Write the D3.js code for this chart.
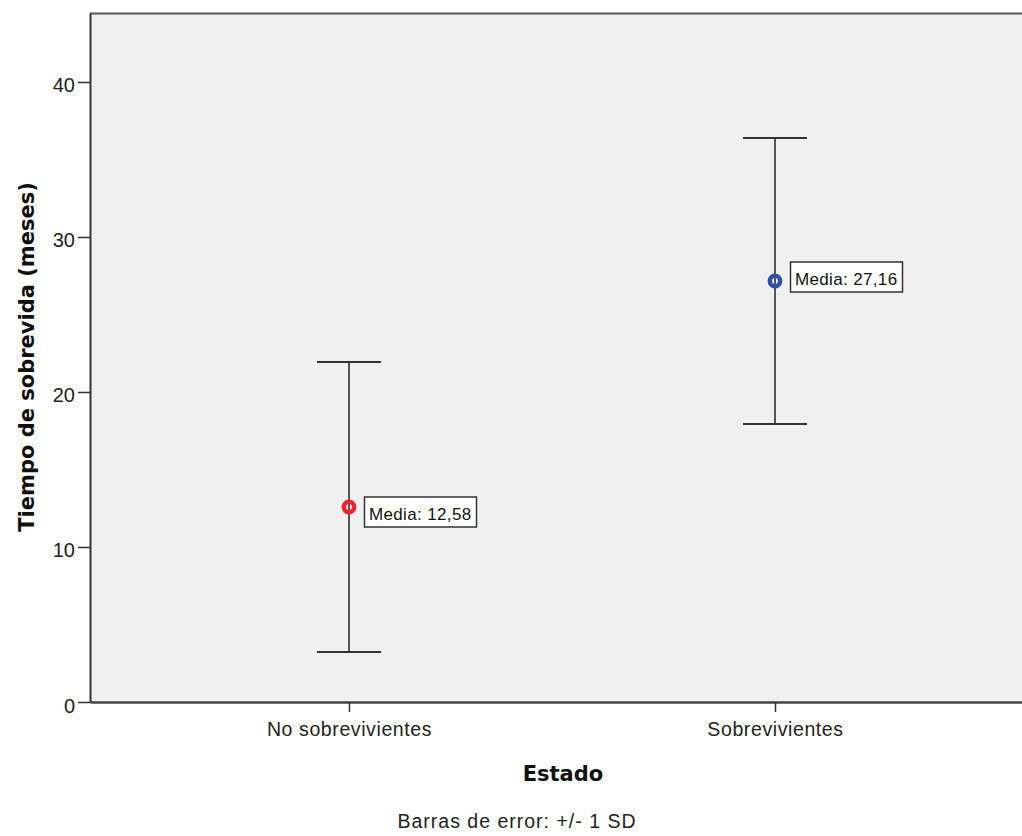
<!DOCTYPE html>
<html><head><meta charset="utf-8">
<script src="https://cdn.jsdelivr.net/npm/d3@7"></script>
<style>body{margin:0;background:#fff}svg{display:block}text{font-family:"Liberation Sans",Arial,sans-serif}</style>
</head><body>
<script>
const categories = ["No sobrevivientes", "Sobrevivientes"];
const means = [12.58, 27.16];
const sds = [9.35, 9.23];
const meanLabels = ["Media: 12,58", "Media: 27,16"];
const colors = ["#e8262d", "#2f4fa3"];
const yTicks = [0, 10, 20, 30, 40];

const W = 1022, H = 836;
const svg = d3.select("body").append("svg").attr("width", W).attr("height", H);
const pL = 90, pR = 1034, pT = 13, pB = 702;

const x = d3.scalePoint().domain(categories).range([pL, pR]).padding(0.608);
const y = d3.scaleLinear().domain([0, 44.45]).range([pB, pT]);

svg.append("rect").attr("x", pL).attr("y", pT).attr("width", pR - pL).attr("height", pB - pT).attr("fill", "#f0f0f0");
svg.append("line").attr("x1", pL).attr("x2", pR).attr("y1", pT + 0.5).attr("y2", pT + 0.5).attr("stroke", "#555").attr("stroke-width", 2);

const yAx = svg.append("g").attr("transform", `translate(${pL},0)`)
  .call(d3.axisLeft(y).tickValues(yTicks).tickFormat(d3.format("d")).tickSize(12).tickSizeOuter(0).tickPadding(3));
yAx.attr("font-family", null).attr("font-size", null);
yAx.select(".domain").attr("stroke", "#333").attr("stroke-width", 2);
yAx.selectAll(".tick line").attr("stroke", "#333").attr("stroke-width", 1.5);
yAx.selectAll("text").style("font-size", "20px").attr("dy", "0.5em").attr("fill", "#222");

const xAx = svg.append("g").attr("transform", `translate(0,${pB})`)
  .call(d3.axisBottom(x).tickSize(10).tickSizeOuter(0).tickPadding(10));
xAx.attr("font-family", null).attr("font-size", null);
xAx.select(".domain").attr("stroke", "#444").attr("stroke-width", 2.5);
xAx.selectAll(".tick line").attr("stroke", "#333").attr("stroke-width", 1.5);
xAx.selectAll("text").style("font-size", "19.5px").style("letter-spacing", "0.6px").attr("fill", "#222");

const capW = 32;
const labelDy = [10, 19]; // box top offset above the mean point
categories.forEach((c, i) => {
  const cx = x(c);
  const g = svg.append("g");
  g.append("line").attr("x1", cx).attr("x2", cx).attr("y1", y(means[i] + sds[i])).attr("y2", y(means[i] - sds[i])).attr("stroke", "#222").attr("stroke-width", 1.5);
  [means[i] + sds[i], means[i] - sds[i]].forEach(v => {
    g.append("line").attr("x1", cx - capW).attr("x2", cx + capW).attr("y1", y(v)).attr("y2", y(v)).attr("stroke", "#333").attr("stroke-width", 2);
  });
  g.append("circle").attr("cx", cx).attr("cy", y(means[i])).attr("r", 5.2).attr("fill", "none").attr("stroke", colors[i]).attr("stroke-width", 4.5);
  const lx = cx + 15.5, by = y(means[i]) - labelDy[i];
  g.append("rect").attr("x", lx).attr("y", by).attr("width", 112).attr("height", 30).attr("fill", "#fff").attr("stroke", "#333").attr("stroke-width", 1.5);
  g.append("text").attr("x", lx + 4.5).attr("y", by + 22.5).style("font-size", "17px").style("letter-spacing", "0.35px").attr("fill", "#111").text(meanLabels[i]);
});

const bold = "'DejaVu Sans',Verdana,sans-serif";
svg.append("text").attr("transform", `translate(34,357) rotate(-90)`).attr("text-anchor", "middle")
  .style("font-family", bold).style("font-size", "21px").attr("font-weight", "bold").attr("fill", "#111").text("Tiempo de sobrevida (meses)");
svg.append("text").attr("x", 563).attr("y", 781).attr("text-anchor", "middle")
  .style("font-family", bold).style("font-size", "21px").attr("font-weight", "bold").attr("fill", "#111").text("Estado");
svg.append("text").attr("x", 517).attr("y", 828).attr("text-anchor", "middle")
  .style("font-size", "19.5px").style("letter-spacing", "1px").attr("fill", "#222").text("Barras de error: +/- 1 SD");
</script>
</body></html>
